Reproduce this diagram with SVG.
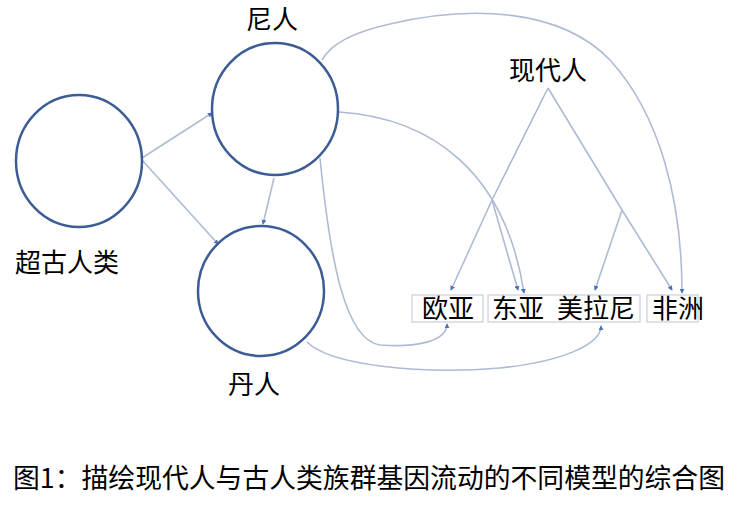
<svg xmlns="http://www.w3.org/2000/svg" width="737" height="513" viewBox="0 0 737 513">
<style>
.node{fill:#fff;stroke:#3d5c96;stroke-width:2.5}
.lbl{font-family:"Noto Sans CJK SC","Liberation Sans",sans-serif;font-size:26px;fill:#000}
.cap{font-family:"Noto Sans CJK SC","Liberation Sans",sans-serif;font-size:27px;fill:#000}
.edge{fill:none;stroke:#aebbd4;stroke-width:1.6}
.box{fill:#fff;stroke:#c9cdd6;stroke-width:1.2}
</style>
<defs>
<marker id="ah" viewBox="0 0 6 6" refX="5" refY="3" markerWidth="5" markerHeight="5" orient="auto" markerUnits="userSpaceOnUse">
<path d="M0,0 L6,3 L0,6 z" fill="#4a72b8"/>
</marker>
</defs>
<rect width="737" height="513" fill="#fff"/>
<g id="connectors">
<path class="edge" d="M142,158 L212,113" marker-end="url(#ah)"/>
<path class="edge" d="M142,160 L218,244" marker-end="url(#ah)"/>
<path class="edge" d="M274,178 L263,224" marker-end="url(#ah)"/>
<path class="edge" d="M322,60 Q335,36 390,24 C470,5 560,8 610,60 C660,115 682,200 682,293" marker-end="url(#ah)"/>
<path class="edge" d="M339,112 C430,118 505,170 524,293" marker-end="url(#ah)"/>
<path class="edge" d="M320,158 C330,260 345,340 380,345 C420,348 447,340 447,324" marker-end="url(#ah)"/>
<path class="edge" d="M307,342 C330,365 420,375 500,368 C560,362 601,345 601,326" marker-end="url(#ah)"/>
<path class="edge" d="M548,88 L492,200 L451,290" marker-end="url(#ah)"/>
<path class="edge" d="M492,200 L518,290" marker-end="url(#ah)"/>
<path class="edge" d="M548,88 L622,210 L672,290" marker-end="url(#ah)"/>
<path class="edge" d="M622,210 L595,290" marker-end="url(#ah)"/>
</g>
<g id="n-chaoguren">
<ellipse class="node" cx="79" cy="161" rx="63" ry="66"/>
<text class="lbl" x="15" y="272">超古人类</text>
</g>
<g id="n-niren">
<ellipse class="node" cx="275" cy="109" rx="63" ry="66"/>
<text class="lbl" x="246" y="29">尼人</text>
</g>
<g id="n-danren">
<ellipse class="node" cx="261" cy="291" rx="63" ry="65"/>
<text class="lbl" x="228" y="394">丹人</text>
</g>
<g id="n-xiandairen">
<text class="lbl" x="509" y="80">现代人</text>
</g>
<g id="n-ouya">
<rect class="box" x="412" y="295" width="71" height="27"/>
<text class="lbl" x="422" y="318">欧亚</text>
</g>
<g id="n-dongya">
<rect class="box" x="488" y="295" width="152" height="27"/>
<text class="lbl" x="492" y="318">东亚</text>
</g>
<g id="n-melanesia">
<text class="lbl" x="557" y="318">美拉尼</text>
</g>
<g id="n-feizhou">
<rect class="box" x="647" y="295" width="51" height="27"/>
<text class="lbl" x="652" y="318">非洲</text>
</g>
<text class="cap" x="13" y="488" textLength="712" lengthAdjust="spacingAndGlyphs">图1：描绘现代人与古人类族群基因流动的不同模型的综合图</text>
</svg>
